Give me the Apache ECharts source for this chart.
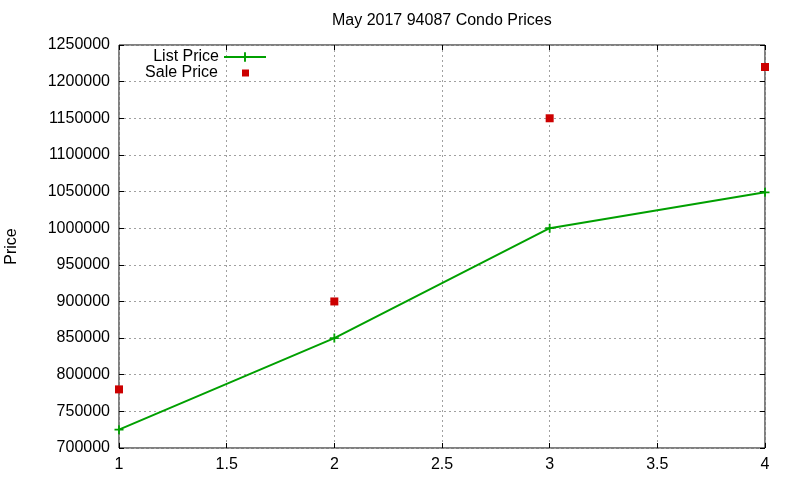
<!DOCTYPE html>
<html>
<head>
<meta charset="utf-8">
<title>May 2017 94087 Condo Prices</title>
<script src="https://cdn.jsdelivr.net/npm/echarts@6/dist/echarts.min.js"></script>
<style>
  html, body { margin: 0; padding: 0; background: #fff; }
  #main { width: 800px; height: 480px; }
</style>
</head>
<body>
<div id="main"></div>
<script>
    // data
    var months = [1, 2, 3, 4];
    var listPrice = [725000, 850000, 1000000, 1049000];
    var salePrice = [780000, 900000, 1150000, 1220000];

    var font = 'Liberation Sans, Arial, sans-serif';
    var plus = 'path://M4,0H6V4H10V6H6V10H4V6H0V4H4Z';

    function pairs(ys) {
        var out = [];
        for (var i = 0; i < months.length; i++) {
            out.push([months[i], ys[i]]);
        }
        return out;
    }

    var gridLine = { show: true, lineStyle: { color: '#a0a0a0', type: [2, 3], width: 1 } };
    var tickIn = { show: true, inside: true, length: 5, lineStyle: { color: '#000' } };

    var myChart = echarts.init(document.getElementById('main'));

    var option = {
        animation: false,
        textStyle: { fontFamily: font },
        title: {
            text: 'May 2017 94087 Condo Prices',
            left: 332,
            top: 12,
            padding: 0,
            textStyle: { fontFamily: font, fontSize: 16, fontWeight: 'normal', color: '#000', lineHeight: 18 }
        },
        legend: [
            {
                data: ['List Price'],
                right: 533,
                top: 49,
                padding: 0,
                align: 'right',
                itemWidth: 42,
                itemHeight: 12,
                textStyle: { fontFamily: font, fontSize: 16, color: '#000' }
            },
            {
                data: [{ name: 'Sale Price', icon: 'rect' }],
                right: 551,
                top: 65,
                padding: 0,
                align: 'right',
                itemWidth: 7,
                itemHeight: 7,
                textStyle: { fontFamily: font, fontSize: 16, color: '#000', padding: [0, 19, 0, 0] }
            }
        ],
        grid: {
            left: 119,
            right: 35,
            top: 45,
            bottom: 32,
            outerBoundsMode: 'none',
            show: true,
            borderColor: '#000',
            borderWidth: 1,
            backgroundColor: 'transparent'
        },
        xAxis: [
            {
                type: 'value',
                min: 1,
                max: 4,
                interval: 0.5,
                axisLine: { show: false },
                axisTick: tickIn,
                splitLine: gridLine,
                axisLabel: { color: '#000', fontSize: 16, fontFamily: font, margin: 9 }
            },
            {
                type: 'value',
                position: 'top',
                min: 1,
                max: 4,
                interval: 0.5,
                axisLine: { show: false },
                axisTick: tickIn,
                splitLine: { show: false },
                axisLabel: { show: false }
            }
        ],
        yAxis: [
            {
                type: 'value',
                min: 700000,
                max: 1250000,
                interval: 50000,
                name: 'Price',
                nameLocation: 'middle',
                nameRotate: 90,
                nameGap: 99,
                nameTextStyle: { color: '#000', fontSize: 16, fontFamily: font },
                axisLine: { show: false },
                axisTick: tickIn,
                splitLine: gridLine,
                axisLabel: {
                    color: '#000', fontSize: 16, fontFamily: font, margin: 9,
                    formatter: function (v) { return String(v); }
                }
            },
            {
                type: 'value',
                position: 'right',
                min: 700000,
                max: 1250000,
                interval: 50000,
                axisLine: { show: false },
                axisTick: tickIn,
                splitLine: { show: false },
                axisLabel: { show: false }
            }
        ],
        series: [
            {
                name: 'List Price',
                type: 'line',
                data: pairs(listPrice),
                symbol: plus,
                symbolSize: 9,
                showAllSymbol: true,
                clip: false,
                color: '#00a000',
                lineStyle: { color: '#00a000', width: 2 },
                itemStyle: { color: '#00a000' },
                z: 3
            },
            {
                name: 'Sale Price',
                type: 'scatter',
                data: pairs(salePrice),
                symbol: 'rect',
                symbolSize: 8,
                clip: false,
                color: '#cc0000',
                itemStyle: { color: '#cc0000', opacity: 1 },
                z: 4
            }
        ]
    };

    myChart.setOption(option);
</script>
</body>
</html>
